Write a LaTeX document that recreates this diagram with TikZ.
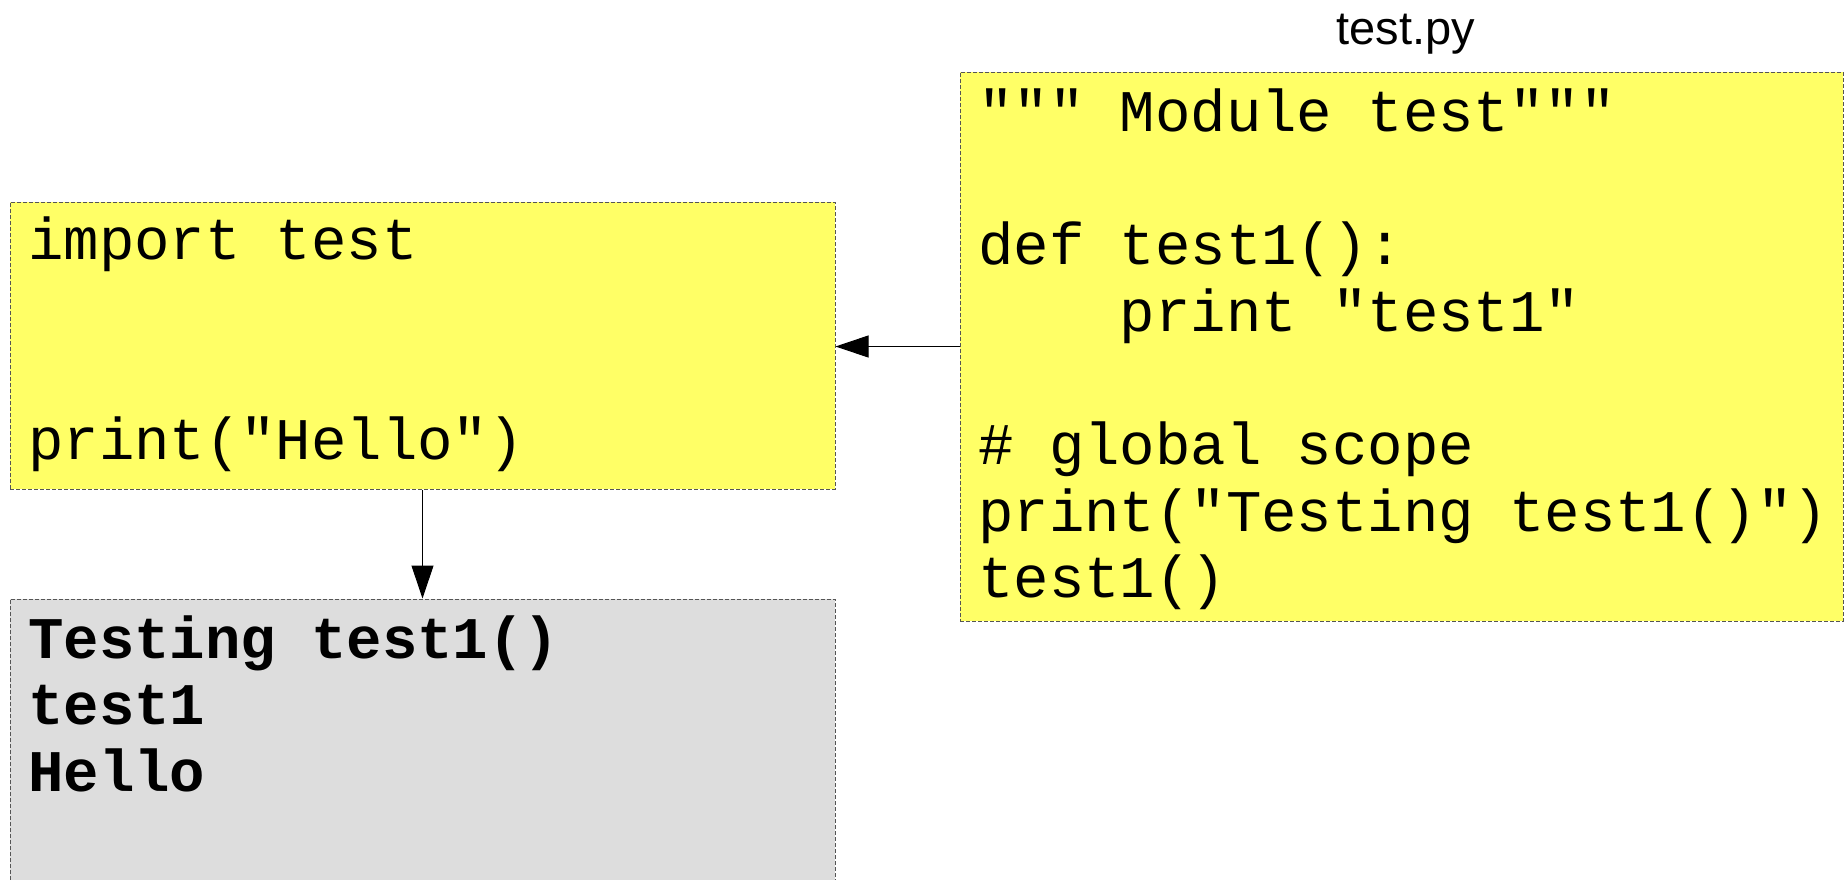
\documentclass[tikz,border=0pt]{standalone}
\usepackage{fontspec}
\usetikzlibrary{arrows.meta}
\newfontfamily\codefont{Liberation Mono}
\newfontfamily\labelfont{Liberation Sans}
\definecolor{codeyellow}{HTML}{FFFF66}
\definecolor{outgray}{HTML}{DDDDDD}
\definecolor{edgegray}{HTML}{555555}
\newcommand\indentcode{\hspace*{141.6pt}}
\tikzset{
  codebox/.style={rectangle, inner sep=0pt, draw=edgegray, line width=1pt,
    dash pattern=on 4pt off 2pt},
  codetext/.style={anchor=base west, inner sep=0pt,
    font=\codefont\fontsize{59}{66.7}\selectfont},
  flow/.style={line width=1pt, -{Triangle[length=33pt, width=22pt]}}
}
\begin{document}
\begin{tikzpicture}[x=1pt, y=1pt]
  \useasboundingbox (0,0) rectangle (1848,-879);

  % boxes
  \node[codebox, fill=codeyellow, minimum width=825pt, minimum height=287pt]
    (main) at (422.5,-345.5) {};
  \node[codebox, fill=outgray, minimum width=825pt, minimum height=401pt]
    (out) at (422.5,-799.5) {};
  \node[codebox, fill=codeyellow, minimum width=883pt, minimum height=549pt]
    (mod) at (1401.5,-346.5) {};

  % file label
  \node[anchor=base, inner sep=0pt, font=\labelfont\fontsize{47}{56}\selectfont]
    (modlabel) at (1406,-44) {test.py};

  % code of the main script
  \node[codetext] (maincode) at (28,-259) {\vtop{%
    \hbox{import test}
    \hbox{}
    \hbox{}
    \hbox{print("Hello")}}};

  % code of the module
  \node[codetext] (modcode) at (978,-131) {\vtop{%
    \hbox{""" Module test"""}
    \hbox{}
    \hbox{def test1():}
    \hbox{\indentcode print "test1"}
    \hbox{}
    \hbox{\# global scope}
    \hbox{print("Testing test1()")}
    \hbox{test1()}}};

  % program output
  \node[codetext, font=\codefont\bfseries\fontsize{59}{66.7}\selectfont]
    (outtext) at (28,-658) {\vtop{%
    \hbox{Testing test1()}
    \hbox{test1}
    \hbox{Hello}}};

  % connectors
  \draw[flow] (mod.west) -- (mod.west -| main.east);
  \draw[flow] (main.south) -- (out.north);
\end{tikzpicture}
\end{document}
